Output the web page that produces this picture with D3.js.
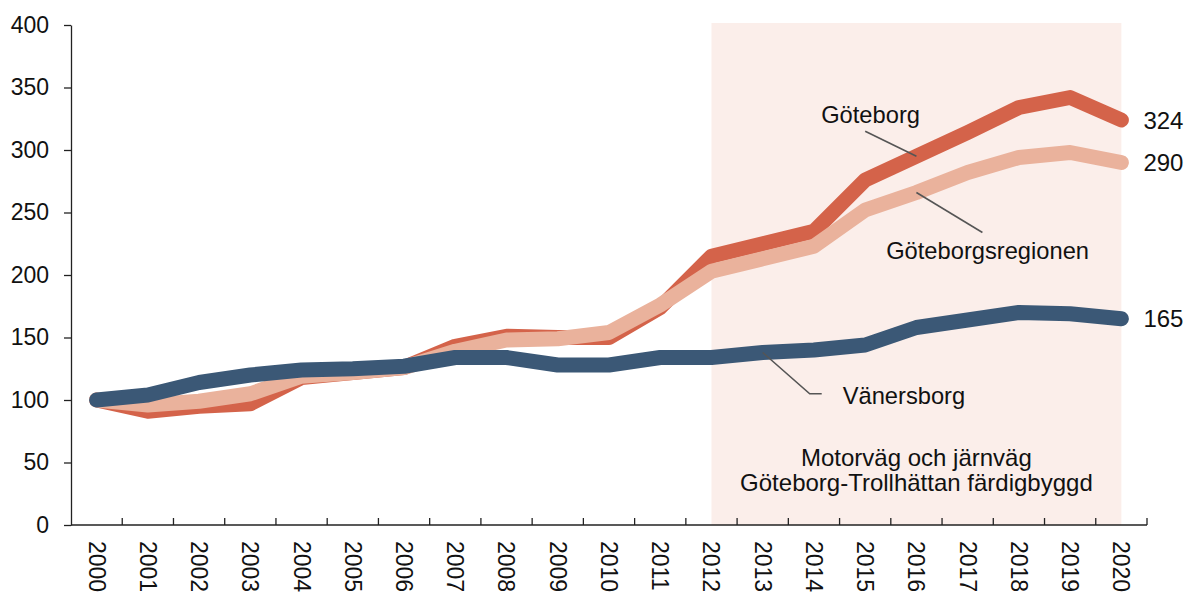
<!DOCTYPE html>
<html>
<head>
<meta charset="utf-8">
<script src="https://cdn.jsdelivr.net/npm/d3@7"></script>
<style>
  body { margin: 0; background: #fff; }
  svg { display: block; font-family: Arial, "Liberation Sans", sans-serif; }
</style>
</head>
<body>
<svg id="chart" width="1187" height="592"></svg>
<script>
const years = ["2000", "2001", "2002", "2003", "2004", "2005", "2006", "2007", "2008", "2009", "2010",
  "2011", "2012", "2013", "2014", "2015", "2016", "2017", "2018", "2019", "2020"];

const goteborg = [100, 91, 95, 97, 118, 122, 126, 143, 151, 150, 150, 174, 215, 225, 235, 276, 295, 314, 334, 342, 324];
const regionen = [100, 96, 99, 105, 119, 122, 126, 139, 148, 149, 154, 176, 203, 213, 223, 252, 266, 282, 294, 298, 290];
const vanersborg = [100, 104, 114, 120, 124, 125, 127, 134, 134, 128, 128, 134, 134, 138, 140, 144, 158, 164, 170, 169, 165];

const yTicks = [0, 50, 100, 150, 200, 250, 300, 350, 400];

const shadeFrom = "2012";
const shadeTo = "2020";
const shadeText = ["Motorväg och järnväg", "Göteborg-Trollhättan färdigbyggd"];

const series = [
  { name: "Göteborg", values: goteborg, color: "#d4634a" },
  { name: "Göteborgsregionen", values: regionen, color: "#eab29c" },
  { name: "Vänersborg", values: vanersborg, color: "#3b5876" },
];

const margin = { top: 25, right: 40, bottom: 67, left: 71 };
const width = 1187;
const height = 592;

const svg = d3.select("#chart");

const x = d3.scaleBand()
  .domain(years)
  .range([margin.left, width - margin.right]);

const y = d3.scaleLinear()
  .domain([0, 400])
  .range([height - margin.bottom, margin.top]);

const cx = (d) => x(d) + x.bandwidth() / 2;

// shaded period
svg.append("rect")
  .attr("x", cx(shadeFrom))
  .attr("y", y(400) - 2)
  .attr("width", cx(shadeTo) - cx(shadeFrom))
  .attr("height", y(0) - y(400) + 2)
  .attr("fill", "#fbeeea");

svg.append("text")
  .attr("x", (cx(shadeFrom) + cx(shadeTo)) / 2)
  .attr("y", y(47.5))
  .attr("text-anchor", "middle")
  .style("font-size", "24px")
  .attr("fill", "#111")
  .selectAll("tspan")
  .data(shadeText)
  .join("tspan")
  .attr("x", (cx(shadeFrom) + cx(shadeTo)) / 2)
  .attr("dy", (d, i) => (i === 0 ? 0 : 25))
  .text((d) => d);

// y axis
const yAxis = svg.append("g")
  .attr("transform", `translate(${margin.left},0)`)
  .call(d3.axisLeft(y).tickValues(yTicks).tickSize(7).tickSizeOuter(0).tickPadding(15));
yAxis.select(".domain").attr("stroke", "#222").attr("stroke-width", 1.3);
yAxis.selectAll(".tick line").attr("stroke", "#222").attr("stroke-width", 1.3);
yAxis.selectAll(".tick text")
  .attr("fill", "#111")
  .style("font-size", "23px")
  .style("font-family", "Arial, 'Liberation Sans', sans-serif");

// x axis
const xAxis = svg.append("g");
xAxis.append("line")
  .attr("x1", margin.left)
  .attr("x2", width - margin.right)
  .attr("y1", y(0))
  .attr("y2", y(0))
  .attr("stroke", "#222")
  .attr("stroke-width", 1.3);

xAxis.selectAll(".xtick")
  .data(years.slice(1).concat(["end"]))
  .join("line")
  .attr("class", "xtick")
  .attr("x1", (d) => (d === "end" ? x.range()[1] : x(d)))
  .attr("x2", (d) => (d === "end" ? x.range()[1] : x(d)))
  .attr("y1", y(0))
  .attr("y2", y(0) - 7)
  .attr("stroke", "#222")
  .attr("stroke-width", 1.3);

xAxis.selectAll(".xlabel")
  .data(years)
  .join("text")
  .attr("class", "xlabel")
  .attr("transform", (d) => `translate(${cx(d)},${y(0) + 16}) rotate(90)`)
  .attr("dy", "0.35em")
  .style("font-size", "23px")
  .attr("fill", "#111")
  .text((d) => d);

// lines
const line = d3.line()
  .x((d, i) => cx(years[i]))
  .y((d) => y(d));

svg.selectAll(".series")
  .data(series)
  .join("path")
  .attr("class", "series")
  .attr("d", (d) => line(d.values))
  .attr("fill", "none")
  .attr("stroke", (d) => d.color)
  .attr("stroke-width", 15)
  .attr("stroke-linejoin", "round")
  .attr("stroke-linecap", "round");

// end values
svg.selectAll(".endlabel")
  .data(series)
  .join("text")
  .attr("class", "endlabel")
  .attr("x", cx(years[years.length - 1]) + 22)
  .attr("y", (d) => y(d.values[d.values.length - 1]))
  .attr("dy", "0.36em")
  .style("font-size", "24px")
  .attr("fill", "#111")
  .text((d) => d.values[d.values.length - 1]);

// leader lines and series names
const leader = (pts) => {
  svg.append("path")
    .attr("d", d3.line()(pts))
    .attr("fill", "none")
    .attr("stroke", "#555")
    .attr("stroke-width", 1.6);
};

const idx = (yr) => years.indexOf(yr);

leader([[cx("2015"), y(315)], [cx("2016"), y(goteborg[idx("2016")])]]);
leader([[cx("2016"), y(regionen[idx("2016")])], [cx("2016") + 66, y(234)]]);
leader([[cx("2013"), y(vanersborg[idx("2013")])], [cx("2013") + 47, y(105)], [cx("2013") + 59, y(105)]]);

const nameLabel = (txt, xPos, yVal) => {
  svg.append("text")
    .attr("x", xPos)
    .attr("y", y(yVal))
    .style("font-size", "23.7px")
    .attr("fill", "#111")
    .text(txt);
};

nameLabel("Göteborg", cx("2015") - 44, 322);
nameLabel("Göteborgsregionen", cx("2015") + 21, 213);
nameLabel("Vänersborg", cx("2013") + 80, 96.5);
</script>
</body>
</html>
